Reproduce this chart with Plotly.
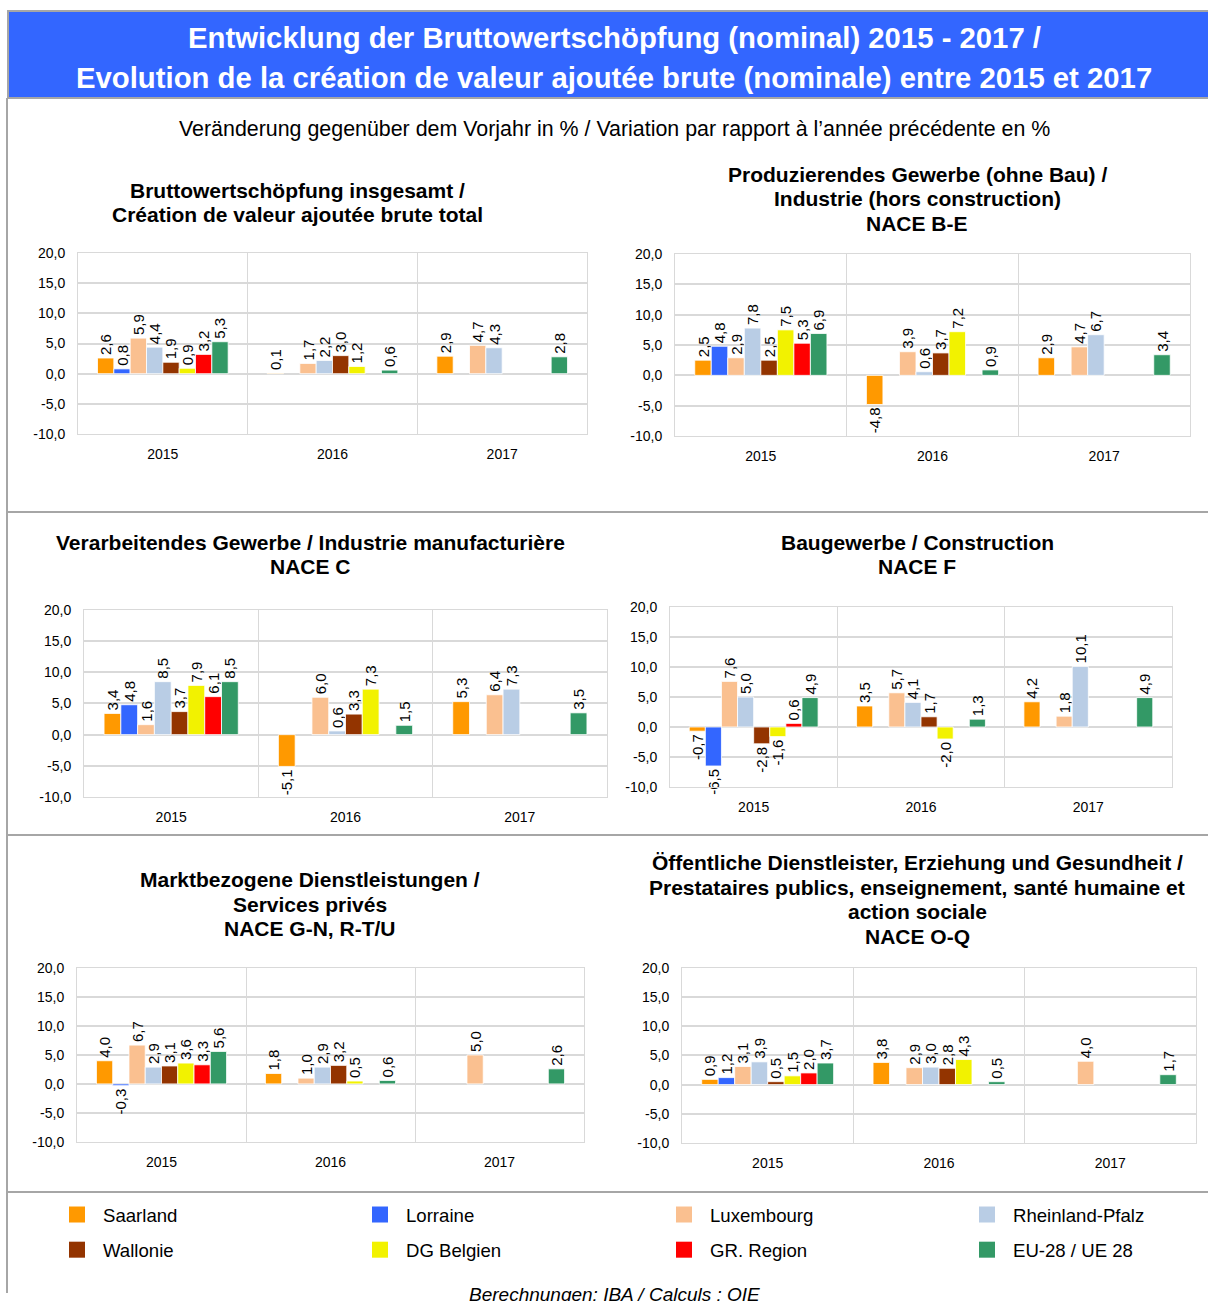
import plotly.graph_objects as go

W, H = 1208, 1301
# the browser photo keeps an 8px band above the figure and squeezes 1317px of
# page into 1301px, so reference y positions are mapped through that
SQUEEZE = 1317 / 1301
TOP = 8

YEARS = ["2015", "2016", "2017"]
REGIONS = ["Saarland", "Lorraine", "Luxembourg", "Rheinland-Pfalz",
           "Wallonie", "DG Belgien", "GR. Region", "EU-28 / UE 28"]
COLORS = ["#FF9900", "#3366FF", "#FAC090", "#B9CDE5",
          "#933400", "#F2F200", "#FF0000", "#339966"]
Y_TICKS = [-10, -5, 0, 5, 10, 15, 20]
Y_TICK_TEXT = ["-10,0", "-5,0", "0,0", "5,0", "10,0", "15,0", "20,0"]

# one row per region, one column per year (None = no value)
BWS_TOTAL = [[2.6, 0.1, 2.9], [0.8, None, None], [5.9, 1.7, 4.7], [4.4, 2.2, 4.3],
             [1.9, 3.0, None], [0.9, 1.2, None], [3.2, None, None], [5.3, 0.6, 2.8]]
NACE_BE = [[2.5, -4.8, 2.9], [4.8, None, None], [2.9, 3.9, 4.7], [7.8, 0.6, 6.7],
           [2.5, 3.7, None], [7.5, 7.2, None], [5.3, None, None], [6.9, 0.9, 3.4]]
NACE_C = [[3.4, -5.1, 5.3], [4.8, None, None], [1.6, 6.0, 6.4], [8.5, 0.6, 7.3],
          [3.7, 3.3, None], [7.9, 7.3, None], [6.1, None, None], [8.5, 1.5, 3.5]]
NACE_F = [[-0.7, 3.5, 4.2], [-6.5, None, None], [7.6, 5.7, 1.8], [5.0, 4.1, 10.1],
          [-2.8, 1.7, None], [-1.6, -2.0, None], [0.6, None, None], [4.9, 1.3, 4.9]]
NACE_GN = [[4.0, 1.8, None], [-0.3, None, None], [6.7, 1.0, 5.0], [2.9, 2.9, None],
           [3.1, 3.2, None], [3.6, 0.5, None], [3.3, None, None], [5.6, 0.6, 2.6]]
NACE_OQ = [[0.9, 3.8, None], [1.2, None, None], [3.1, 2.9, 4.0], [3.9, 3.0, None],
           [0.5, 2.8, None], [1.5, 4.3, None], [2.0, None, None], [3.7, 0.5, 1.7]]

TITLES = [
    ["Bruttowertschöpfung insgesamt /", "Création de valeur ajoutée brute total"],
    ["Produzierendes Gewerbe (ohne Bau) /", "Industrie (hors construction)", "NACE B-E"],
    ["Verarbeitendes Gewerbe / Industrie manufacturière", "NACE C"],
    ["Baugewerbe / Construction", "NACE F"],
    ["Marktbezogene Dienstleistungen /", "Services privés", "NACE G-N, R-T/U"],
    ["Öffentliche Dienstleister, Erziehung und Gesundheit /",
     "Prestataires publics, enseignement, santé humaine et", "action sociale", "NACE O-Q"],
]
DATA = [BWS_TOTAL, NACE_BE, NACE_C, NACE_F, NACE_GN, NACE_OQ]

# plot boxes in reference pixels: x0, x1, ytop, ybottom ; title centre x, first line y
BOXES = [(78, 587, 253, 434), (675, 1190, 254, 436),
         (84, 607, 610, 797), (670, 1172, 607, 787),
         (77, 584, 968, 1142), (682, 1196, 968, 1143)]
TITLE_POS = [(297, 190), (917, 174), (310, 542), (917, 542), (310, 880), (917, 863)]
LEGEND_X = [51, 354, 658, 961]

FONT = "Liberation Sans, Arial, sans-serif"
GRID = "#D9D9D9"
SEP = "#A6A6A6"


def px(x):
    return x / W


def py(y):
    return 1 - (y * SQUEEZE - TOP) / H


def label(v):
    # German style decimal comma with a plain hyphen for negatives
    return "" if v is None else f"{v:.1f}".replace(".", ",")


def text(s, x, y, size, color="black", **kw):
    fig.add_annotation(text=s, x=px(x), y=py(y), xref="paper", yref="paper",
                       showarrow=False, xanchor="center", yanchor="middle",
                       font=dict(size=size, color=color, family=FONT), **kw)


fig = go.Figure()

for p, values in enumerate(DATA):
    n = "" if p == 0 else str(p + 1)
    for i, region in enumerate(REGIONS):
        fig.add_trace(go.Bar(
            x=YEARS, y=values[i], name=region,
            text=[label(v) for v in values[i]], texttemplate="%{text}",
            marker=dict(color=COLORS[i], line=dict(color="white", width=0.8)),
            textposition="outside", textangle=-90,
            textfont=dict(size=15, color="black", family=FONT),
            constraintext="none", cliponaxis=False,
            xaxis="x" + n, yaxis="y" + n,
            showlegend=False, hoverinfo="skip",
        ))
    x0, x1, yt, yb = BOXES[p]
    fig.update_layout(**{
        "xaxis" + n: dict(domain=[px(x0), px(x1)], anchor="y" + n, type="category",
                          tickson="boundaries", showgrid=True, gridcolor=GRID,
                          showline=True, linecolor=GRID, mirror=True, ticks="",
                          ticklabelstandoff=7,
                          tickfont=dict(size=14, color="black", family=FONT),
                          fixedrange=True),
        "yaxis" + n: dict(domain=[py(yb), py(yt)], anchor="x" + n, range=[-10, 20],
                          tickvals=Y_TICKS, ticktext=Y_TICK_TEXT,
                          showgrid=True, gridcolor=GRID,
                          gridwidth=1.5, zeroline=False, showline=True, linecolor=GRID,
                          mirror=True, ticks="", ticklabelstandoff=9,
                          tickfont=dict(size=14, color="black", family=FONT),
                          fixedrange=True),
    })
    tx, ty = TITLE_POS[p]
    for k, line in enumerate(TITLES[p]):
        text("<b>" + line + "</b>", tx, ty + 24.5 * k, 21)

# legend entries (square swatches, 4 columns x 2 rows)
for i, region in enumerate(REGIONS):
    col = i % 4
    fig.add_trace(go.Scatter(
        x=[None], y=[None], mode="markers", name=region,
        marker=dict(symbol="square", size=16, color=COLORS[i]),
        legend="legend" if col == 0 else "legend" + str(col + 1),
        legendgroup=region, hoverinfo="skip",
    ))

shapes = [
    dict(type="rect", xref="paper", yref="paper", x0=px(8), x1=px(1209), y0=py(98), y1=py(11),
         fillcolor="#3366FF", line=dict(color=SEP, width=2), layer="below"),
    dict(type="line", xref="paper", yref="paper", x0=px(7), x1=px(7), y0=py(98), y1=0,
         line=dict(color=SEP, width=2)),
]
for yy in (512, 835, 1192):
    shapes.append(dict(type="line", xref="paper", yref="paper", x0=px(7), x1=1,
                       y0=py(yy), y1=py(yy), line=dict(color=SEP, width=2)))

text("<b>Entwicklung der Bruttowertschöpfung (nominal) 2015 - 2017 /</b>", 614, 37, 29.3, "white")
text("<b>Evolution de la création de valeur ajoutée brute (nominale) entre 2015 et 2017</b>",
     614, 77, 29.3, "white")
text("Veränderung gegenüber dem Vorjahr in % / Variation par rapport à l’année précédente en %",
     614, 129, 21.4)
text("<i>Berechnungen: IBA / Calculs : OIE</i>", 614, 1295, 19)

legends = {}
for c, lx in enumerate(LEGEND_X):
    key = "legend" if c == 0 else "legend" + str(c + 1)
    legends[key] = dict(orientation="v", xanchor="left", yanchor="top",
                        x=px(lx), y=py(1196), bgcolor="rgba(0,0,0,0)",
                        traceorder="grouped", tracegroupgap=8, itemsizing="trace",
                        itemwidth=42,
                        font=dict(size=18.6, color="black", family=FONT))

fig.update_layout(
    width=W, height=H,
    margin=dict(l=0, r=0, t=0, b=0),
    paper_bgcolor="white", plot_bgcolor="white",
    barmode="group", bargap=0.23, bargroupgap=0,
    font=dict(family=FONT, color="black"),
    shapes=shapes,
    **legends,
)

fig.write_html("out.html", config={"displayModeBar": False},
               post_script="document.body.style.margin='0';")
